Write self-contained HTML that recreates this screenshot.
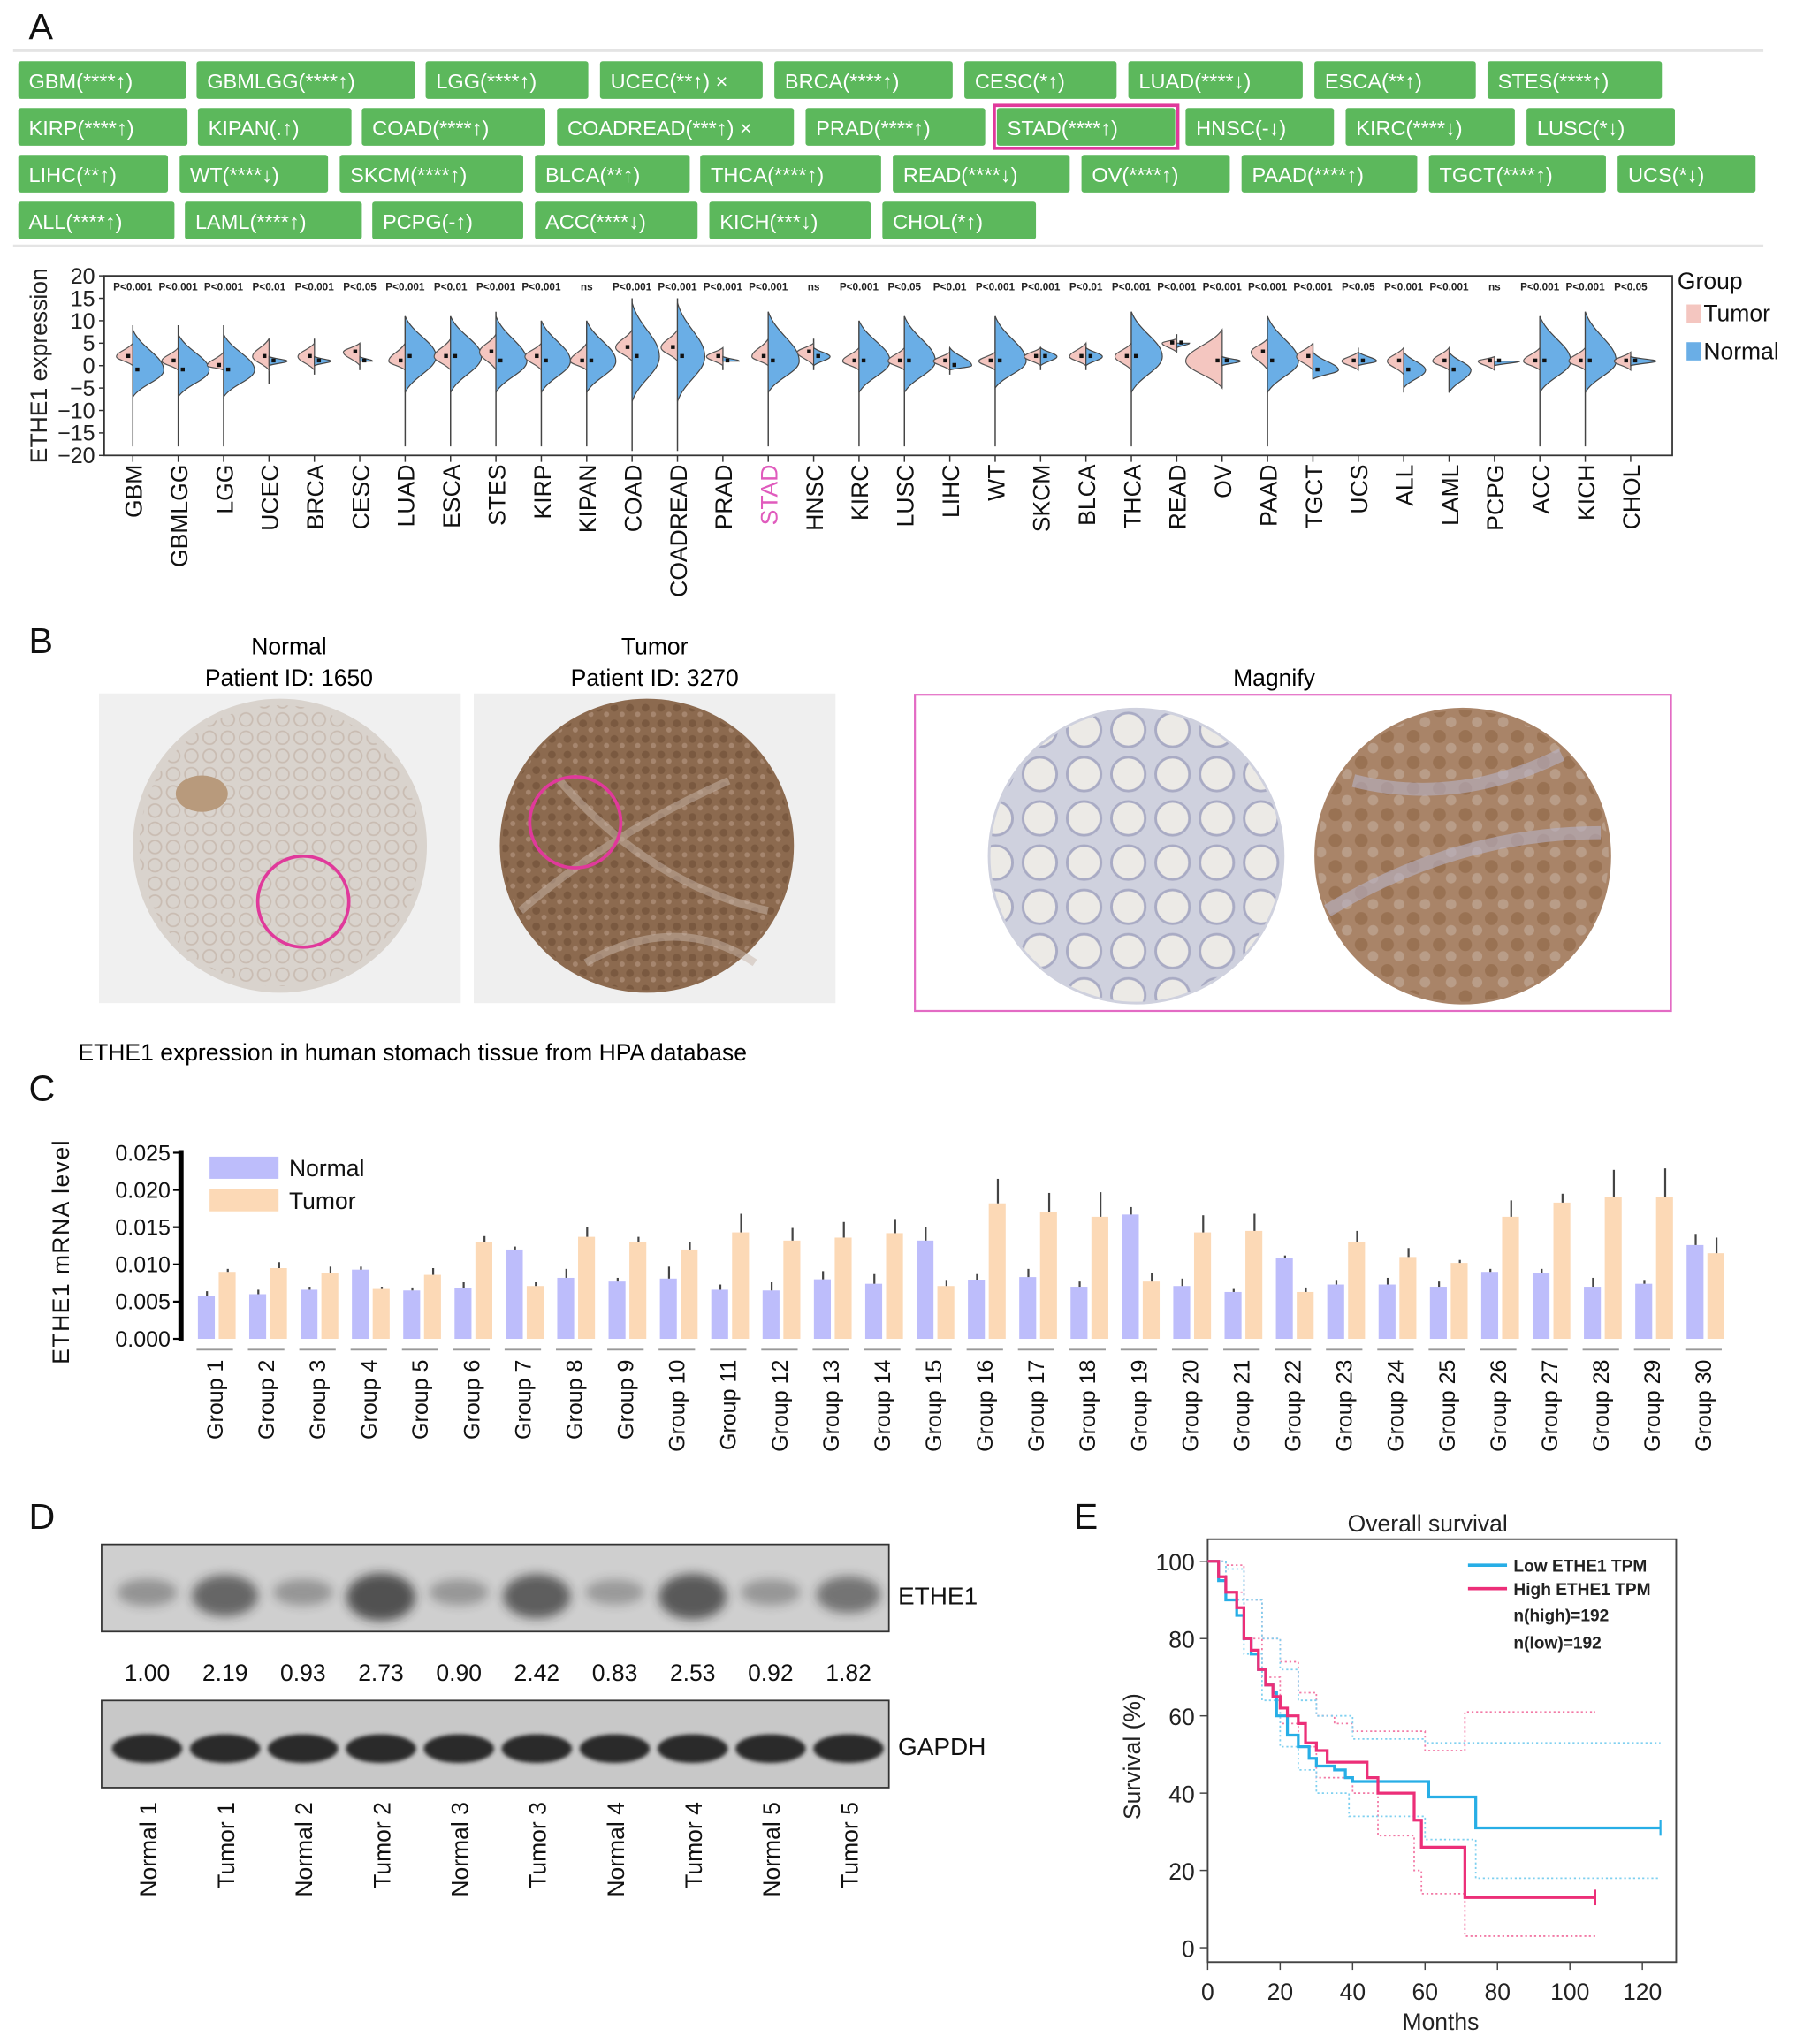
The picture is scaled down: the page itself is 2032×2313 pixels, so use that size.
<!DOCTYPE html>
<html><head><meta charset="utf-8"><style>
html,body{margin:0;padding:0;background:#fff;}
svg{display:block;font-family:"Liberation Sans",Arial,sans-serif;}
</style></head><body>
<svg id="fig" width="2032" height="2313" viewBox="0 0 1380 1571" xmlns="http://www.w3.org/2000/svg">
<defs>
<filter id="blur2" x="-50%" y="-100%" width="200%" height="300%"><feGaussianBlur stdDeviation="4"/></filter>
<filter id="blur1" x="-50%" y="-100%" width="200%" height="300%"><feGaussianBlur stdDeviation="1.5"/></filter>
<pattern id="texN" width="14" height="14" patternUnits="userSpaceOnUse"><circle cx="7" cy="7" r="5" fill="none" stroke="#c9bcb2" stroke-width="1.2"/></pattern>
<pattern id="texT" width="12" height="12" patternUnits="userSpaceOnUse"><circle cx="4" cy="4" r="3" fill="#6e4e35" opacity="0.6"/><circle cx="10" cy="9" r="2" fill="#b79a84" opacity="0.6"/></pattern>
<pattern id="texMN" width="34" height="34" patternUnits="userSpaceOnUse"><circle cx="17" cy="17" r="13" fill="#eceae6" stroke="#a9abc4" stroke-width="2"/></pattern>
<pattern id="texMT" width="20" height="20" patternUnits="userSpaceOnUse"><circle cx="6" cy="6" r="5" fill="#8a5f3e" opacity="0.5"/><circle cx="15" cy="15" r="4" fill="#c9b6a8" opacity="0.5"/></pattern>
</defs>
<rect width="1380" height="1571" fill="#fff"/>
<g font-size="28" fill="#111">
<text x="22" y="30">A</text>
<text x="22" y="502">B</text>
<text x="22" y="846">C</text>
<text x="22" y="1175">D</text>
<text x="825" y="1175">E</text>
</g>
<line x1="10" y1="39" x2="1355" y2="39" stroke="#e4e4e4" stroke-width="2"/>
<line x1="10" y1="189" x2="1355" y2="189" stroke="#e4e4e4" stroke-width="2"/>
<g id="buttons"></g>
<g id="violin"></g>
<g id="panelB">
<text x="222" y="503" font-size="18" text-anchor="middle">Normal</text>
<text x="222" y="527" font-size="18" text-anchor="middle">Patient ID: 1650</text>
<text x="503" y="503" font-size="18" text-anchor="middle">Tumor</text>
<text x="503" y="527" font-size="18" text-anchor="middle">Patient ID: 3270</text>
<rect x="76" y="533" width="278" height="238" fill="#f0f0f0"/>
<circle cx="215" cy="650" r="113" fill="#d9d3cd"/>
<circle cx="215" cy="650" r="108" fill="url(#texN)"/>
<ellipse cx="155" cy="610" rx="20" ry="14" fill="#b89a7c"/>
<circle cx="233" cy="693" r="35" fill="none" stroke="#e0399b" stroke-width="2.5"/>
<rect x="364" y="533" width="278" height="238" fill="#efefef"/>
<circle cx="497" cy="650" r="113" fill="#8c6a4f"/>
<circle cx="497" cy="650" r="111" fill="url(#texT)"/>
<path d="M400 700 Q470 640 560 600 M430 600 Q500 680 590 700 M450 740 Q520 700 580 740" stroke="#c7b6aa" stroke-width="6" fill="none" opacity="0.5"/>
<circle cx="442" cy="632" r="35" fill="none" stroke="#e0399b" stroke-width="2.5"/>
<text x="979" y="527" font-size="18" text-anchor="middle">Magnify</text>
<rect x="703" y="534" width="581" height="243" fill="none" stroke="#e36bc4" stroke-width="1.5"/>
<circle cx="873" cy="658" r="114" fill="#cfd1de"/>
<circle cx="873" cy="658" r="112" fill="url(#texMN)"/>
<circle cx="1124" cy="658" r="114" fill="#a98468"/>
<circle cx="1124" cy="658" r="112" fill="url(#texMT)"/>
<path d="M1020 700 Q1120 640 1230 640 M1040 600 Q1120 620 1200 580" stroke="#b8b3c6" stroke-width="10" fill="none" opacity="0.6"/>
<text x="60" y="815" font-size="18">ETHE1 expression in human stomach tissue from HPA database</text>
</g>
<g id="barC"></g>
<g id="blotD"></g>
<g id="survE"></g>
</svg>
<script>
const NS="http://www.w3.org/2000/svg";
function mk(p,tag,a){const e=document.createElementNS(NS,tag);for(const k in a)e.setAttribute(k,a[k]);p.appendChild(e);return e;}
function tx(p,x,y,s,a){const e=mk(p,'text',Object.assign({x:x,y:y},a||{}));e.textContent=s;return e;}

/* ---------- Panel A buttons ---------- */
const btnRows=[
[["GBM(****↑)",14,143],["GBMLGG(****↑)",151,319],["LGG(****↑)",327,452],["UCEC(**↑)  ×",461,586],["BRCA(****↑)",595,732],["CESC(*↑)",741,858],["LUAD(****↓)",867,1001],["ESCA(**↑)",1010,1134],["STES(****↑)",1143,1277]],
[["KIRP(****↑)",14,144],["KIPAN(.↑)",152,270],["COAD(****↑)",278,419],["COADREAD(***↑)  ×",428,610],["PRAD(****↑)",619,757],["STAD(****↑)",766,903],["HNSC(-↓)",911,1025],["KIRC(****↓)",1034,1164],["LUSC(*↓)",1173,1287]],
[["LIHC(**↑)",14,129],["WT(****↓)",138,252],["SKCM(****↑)",261,402],["BLCA(**↑)",411,530],["THCA(****↑)",538,677],["READ(****↓)",686,822],["OV(****↑)",831,945],["PAAD(****↑)",954,1089],["TGCT(****↑)",1098,1234],["UCS(*↓)",1243,1349]],
[["ALL(****↑)",14,134],["LAML(****↑)",142,278],["PCPG(-↑)",286,402],["ACC(****↓)",411,536],["KICH(***↓)",545,669],["CHOL(*↑)",678,796]]];
const rowY=[47,83,119,155];
const bg=document.getElementById('buttons');
btnRows.forEach((row,ri)=>row.forEach(b=>{
  const r=mk(bg,'rect',{x:b[1],y:rowY[ri],width:b[2]-b[1],height:29,fill:'#5cb85c',rx:2});
  
  
  if(b[0].startsWith('STAD')){const h=mk(bg,'rect',{x:b[1]-2,y:rowY[ri]-2,width:b[2]-b[1]+4,height:33,fill:'none',stroke:'#e0399b','stroke-width':2.5});
    
    }
  const t=tx(bg,b[1]+8,rowY[ri]+21,b[0],{fill:'#fff','font-size':16});
  
  
}));

/* ---------- Panel A violin ---------- */
const vCats=["GBM","GBMLGG","LGG","UCEC","BRCA","CESC","LUAD","ESCA","STES","KIRP","KIPAN","COAD","COADREAD","PRAD","STAD","HNSC","KIRC","LUSC","LIHC","WT","SKCM","BLCA","THCA","READ","OV","PAAD","TGCT","UCS","ALL","LAML","PCPG","ACC","KICH","CHOL"];
const vP=["P<0.001","P<0.001","P<0.001","P<0.01","P<0.001","P<0.05","P<0.001","P<0.01","P<0.001","P<0.001","ns","P<0.001","P<0.001","P<0.001","P<0.001","ns","P<0.001","P<0.05","P<0.01","P<0.001","P<0.001","P<0.01","P<0.001","P<0.001","P<0.001","P<0.001","P<0.001","P<0.05","P<0.001","P<0.001","ns","P<0.001","P<0.001","P<0.05"];
const tLo=[0,-1,-1,-1,-1,0,-1,-1,-1,-1,-1,1,1,0,0,0,-1,-1,-1,-1,0,0,-1,3,-5,-1,-1,-1,-2,-1,-1,-1,-1,-1];
const tHi=[5,4,3,6,5,5,5,6,7,5,5,8,8,4,6,5,4,4,3,3,4,5,5,6,8,6,5,3,4,4,2,4,4,3];
const tMed=[2,1,0,2,2,3,1,2,3,2,1,4,4,2,2,3,1,1,1,1,2,2,2,5,1,3,2,1,1,1,1,1,1,1];
const nLo=[-7,-7,-7,0,0,1,-6,-6,-6,-6,-6,-8,-8,1,-6,0,-6,-6,-1,-5,0,0,-6,4,0,-6,-3,0,-5,-6,0,-6,-6,0];
const nHi=[8,7,7,2,2,2,11,11,11,10,10,14,14,2,12,4,10,11,4,11,4,4,12,5,2,11,3,3,3,3,1,11,12,2];
const nMed=[-1,-1,-1,1,1,1,2,2,1,1,1,2,2,1,1,2,1,1,0,1,2,2,2,5,1,1,-1,1,-1,-1,1,1,1,1];
const wLo=[-18,-18,-18,-4,-2,-1,-18,-18,-18,-18,-18,-19,-19,-1,-18,-1,-18,-18,-2,-18,-1,-1,-18,3,-5,-18,-3,-1,-6,-6,-1,-18,-18,-1];
const wHi=[9,9,9,6,6,5,11,11,12,10,10,15,15,4,12,6,10,11,4,11,4,5,12,7,8,11,5,4,4,4,2,11,12,3];
const tDen=[0.45,0.45,0.45,0.45,0.45,0.45,0.45,0.45,0.45,0.45,0.45,0.45,0.45,0.45,0.45,0.45,0.45,0.45,0.45,0.45,0.45,0.45,0.45,0.4,1.0,0.45,0.45,0.45,0.45,0.45,0.45,0.45,0.45,0.45];
const nDen=[0.85,0.85,0.85,0.5,0.45,0.35,0.85,0.85,0.85,0.8,0.8,0.75,0.75,0.45,0.85,0.45,0.85,0.85,0.6,0.85,0.45,0.45,0.85,0.35,0.5,0.85,0.7,0.5,0.6,0.6,0.7,0.85,0.85,0.7];
const vTicks=[20,15,10,5,0,-5,-10,-15,-20];
(function(){
  const g=document.getElementById('violin');
  const X0=80,X1=1285,Y0=212,Y1=350;
  const ys=v=>Y1-(v+20)/40*(Y1-Y0);
  const xs=i=>102+i*(1253-102)/(vCats.length-1);
  const box=mk(g,'rect',{x:X0,y:Y0,width:X1-X0,height:Y1-Y0,fill:'none',stroke:'#333','stroke-width':1.2});
  
  
  vTicks.forEach(t=>{
    const l=mk(g,'line',{x1:X0-4,x2:X0,y1:ys(t),y2:ys(t),stroke:'#333'});
    
    
    const e=tx(g,X0-7,ys(t)+6,String(t).replace('-','−'),{'font-size':17,'text-anchor':'end',fill:'#222'});
    
    
  });
  const yl=tx(g,0,0,'ETHE1 expression',{'font-size':18,'text-anchor':'middle',transform:'translate(36,281) rotate(-90)',fill:'#222'});
  
  
  function half(x,lo,hi,med,w,s){
    const yh=ys(hi),yl2=ys(lo),ym=ys(med);
    return `M${x},${yh} C${x+s*w*0.25},${yh+(ym-yh)*0.45} ${x+s*w},${ym-(ym-yh)*0.35} ${x+s*w},${ym} C${x+s*w},${ym+(yl2-ym)*0.35} ${x+s*w*0.25},${yl2-(yl2-ym)*0.45} ${x},${yl2} Z`;
  }
  vCats.forEach((c,i)=>{
    const x=xs(i);
    const w=mk(g,'line',{x1:x,x2:x,y1:ys(wHi[i]),y2:ys(wLo[i]),stroke:'#444','stroke-width':1});
    
    
    const tp=mk(g,'path',{d:half(x,tLo[i],tHi[i],tMed[i],28*tDen[i],-1),fill:'#f4c6c0',stroke:'#555','stroke-width':0.8});
    
    
    const np=mk(g,'path',{d:half(x,nLo[i],nHi[i],nMed[i],28*nDen[i],1),fill:'#6aaee6',stroke:'#444','stroke-width':0.8});
    
    
    const d1=mk(g,'rect',{x:x-5,y:ys(tMed[i])-2,width:3,height:3,fill:'#111'});
    
    
    const d2=mk(g,'rect',{x:x+2,y:ys(nMed[i])-2,width:3,height:3,fill:'#111'});
    
    
    const tk=mk(g,'line',{x1:x,x2:x,y1:Y1,y2:Y1+5,stroke:'#333'});
    
    
    const pv=tx(g,x,223,vP[i],{'font-size':8,'font-weight':'bold','text-anchor':'middle',fill:'#222'});
    
    
    const lb=tx(g,0,0,c,{'font-size':18,'text-anchor':'end',transform:`translate(${x+7},357) rotate(-90)`,fill:c==='STAD'?'#e05bbd':'#111'});
    
    
  });
  const lg=tx(g,1289,222,'Group',{'font-size':18,fill:'#111'});
  
  
  [['Tumor','#f4c6c0',241],['Normal','#6aaee6',270]].forEach(L=>{
    const r=mk(g,'rect',{x:1296,y:L[2]-7,width:11,height:14,fill:L[1]});
    
    
    const t=tx(g,1309,L[2]+6,L[0],{'font-size':18,fill:'#111'});
    
    
  });
})();

/* ---------- Panel C bars ---------- */
const cGroups=[];for(let i=1;i<=30;i++)cGroups.push('Group '+i);
const cNormal=[.0058,.0060,.0066,.0093,.0065,.0068,.0120,.0082,.0077,.0081,.0066,.0065,.0080,.0074,.0132,.0079,.0083,.0070,.0167,.0071,.0063,.0109,.0073,.0073,.0070,.0090,.0088,.0070,.0074,.0126];
const cTumor=[.0090,.0095,.0089,.0067,.0086,.0130,.0071,.0137,.0130,.0120,.0143,.0132,.0136,.0142,.0071,.0182,.0171,.0164,.0077,.0143,.0145,.0063,.0130,.0110,.0102,.0164,.0183,.0190,.0190,.0115];
const cNErr=[.0006,.0006,.0004,.0004,.0004,.0008,.0004,.0012,.0005,.0016,.0007,.0011,.0011,.0013,.0018,.0008,.0011,.0007,.0010,.0010,.0004,.0003,.0005,.0009,.0007,.0004,.0006,.0012,.0004,.0015];
const cTErr=[.0004,.0008,.0008,.0003,.0009,.0008,.0005,.0013,.0007,.0010,.0025,.0017,.0021,.0019,.0007,.0033,.0025,.0033,.0012,.0023,.0023,.0006,.0015,.0012,.0004,.0022,.0012,.0037,.0039,.0021];
const cTicks=[0,.005,.01,.015,.02,.025];
(function(){
  const g=document.getElementById('barC');
  const Y0=886,Y1=1029;
  const ys=v=>Y1-v/0.025*(Y1-Y0);
  const gx=i=>165+i*(1309-165)/29;
  const ax=mk(g,'line',{x1:139,x2:139,y1:Y0-2,y2:Y1+2,stroke:'#000','stroke-width':4});
  
  
  cTicks.forEach(t=>{
    const l=mk(g,'line',{x1:133,x2:139,y1:ys(t),y2:ys(t),stroke:'#000','stroke-width':1.5});
    
    
    const e=tx(g,131,ys(t)+6,t.toFixed(3),{'font-size':17,'text-anchor':'end',fill:'#111'});
    
    
  });
  const yt=tx(g,0,0,'ETHE1 mRNA level',{'font-size':18,'text-anchor':'middle',transform:'translate(53,962) rotate(-90)',fill:'#111','letter-spacing':'1'});
  
  
  cGroups.forEach((name,i)=>{
    const c=gx(i);
    [[cNormal[i],cNErr[i],c-13,'#bdbdfb','bar-normal'],[cTumor[i],cTErr[i],c+3,'#fcd9b6','bar-tumor']].forEach(B=>{
      const r=mk(g,'rect',{x:B[2],y:ys(B[0]),width:13,height:Y1-ys(B[0]),fill:B[3]});
      
      
      const e=mk(g,'line',{x1:B[2]+7,x2:B[2]+7,y1:ys(B[0]),y2:ys(B[0]+B[1]),stroke:'#444','stroke-width':1.5});
      
      
    });
    const s=mk(g,'line',{x1:c-14,x2:c+14,y1:1037,y2:1037,stroke:'#999','stroke-width':2});
    
    
    const lb=tx(g,0,0,name,{'font-size':17,'text-anchor':'end',transform:`translate(${c+6},1045) rotate(-90)`,fill:'#111'});
    
    
  });
  [['Normal','#bdbdfb',889],['Tumor','#fcd9b6',914]].forEach(L=>{
    const r=mk(g,'rect',{x:161,y:L[2],width:53,height:17,fill:L[1]});
    
    
    const t=tx(g,222,L[2]+15,L[0],{'font-size':18,fill:'#111'});
    
    
  });
})();

/* ---------- Panel D blot ---------- */
const dLanes=["Normal 1","Tumor 1","Normal 2","Tumor 2","Normal 3","Tumor 3","Normal 4","Tumor 4","Normal 5","Tumor 5"];
const dValues=[1.00,2.19,0.93,2.73,0.90,2.42,0.83,2.53,0.92,1.82];
const dGapdh=[1,1,1,1,1,1,1,1,1,1];
(function(){
  const g=document.getElementById('blotD');
  const lx=i=>113+i*(652-113)/9;
  const b1=mk(g,'rect',{x:78,y:1187,width:605,height:67,fill:'#cfcfcf',stroke:'#333','stroke-width':1.2});
  
  
  const b2=mk(g,'rect',{x:78,y:1307,width:605,height:67,fill:'#c8c8c8',stroke:'#333','stroke-width':1.2});
  
  
  dLanes.forEach((n,i)=>{
    const x=lx(i),v=dValues[i];
    const op=Math.min(0.8,0.12+v*0.22);
    const e=mk(g,'ellipse',{cx:x,cy:1222+v*2,rx:21+v*2,ry:6+v*4.5,fill:'#222',opacity:op,filter:'url(#blur2)'});
    
    
    const q=tx(g,x,1292,v.toFixed(2),{'font-size':18,'text-anchor':'middle',fill:'#111'});
    
    
    const gb=mk(g,'ellipse',{cx:x,cy:1344,rx:27,ry:11*dGapdh[i],fill:'#2a2a2a',filter:'url(#blur1)'});
    
    
    const lb=tx(g,0,0,n,{'font-size':18,'text-anchor':'end',transform:`translate(${x+7},1385) rotate(-90)`,fill:'#111'});
    
    
  });
  const t1=tx(g,690,1233,'ETHE1',{'font-size':19,fill:'#111'});
  
  
  const t2=tx(g,690,1349,'GAPDH',{'font-size':19,fill:'#111'});
  
  
})();

/* ---------- Panel E survival ---------- */
const lowT=[0,3,5,8,10,12,14,16,18,19,22,25,28,30,35,38,40,61,74,125];
const lowS=[100,95,90,86,80,76,72,68,66,60,55,52,49,47,46,44,43,39,31,31];
const highT=[0,3,5,8,10,12,14,16,18,20,22,25,27,30,33,44,47,57,59,71,107];
const highS=[100,96,92,88,80,77,72,68,65,62,60,58,53,51,48,44,40,33,26,13,13];
const lowUpT=[0,5,10,15,20,25,30,40,60,125];
const lowUpS=[100,98,90,80,72,64,60,54,53,53];
const lowLoT=[0,5,10,15,20,25,30,39,45,60,74,125];
const lowLoS=[100,90,76,64,52,46,40,34,34,28,18,18];
const highUpT=[0,5,10,15,20,25,30,35,40,60,71,107];
const highUpS=[100,99,90,80,74,66,60,58,56,51,61,61];
const highLoT=[0,5,10,15,20,25,30,40,47,57,59,71,107];
const highLoS=[100,92,80,70,58,52,44,40,29,20,14,3,3];
const eXTicks=[0,20,40,60,80,100,120];
const eYTicks=[0,20,40,60,80,100];
(function(){
  const g=document.getElementById('survE');
  const xs=t=>928+t/120*(1262-928);
  const ys=s=>1497-s/100*(1497-1200);
  const fr=mk(g,'rect',{x:928,y:1183,width:360,height:325,fill:'none',stroke:'#444','stroke-width':1.3});
  
  
  eXTicks.forEach(t=>{
    const l=mk(g,'line',{x1:xs(t),x2:xs(t),y1:1508,y2:1514,stroke:'#444'});
    
    
    const e=tx(g,xs(t),1537,String(t),{'font-size':18,'text-anchor':'middle',fill:'#222'});
    
    
  });
  eYTicks.forEach(t=>{
    const l=mk(g,'line',{x1:922,x2:928,y1:ys(t),y2:ys(t),stroke:'#444'});
    
    
    const e=tx(g,918,ys(t)+7,String(t),{'font-size':18,'text-anchor':'end',fill:'#222'});
    
    
  });
  const xt=tx(g,1107,1560,'Months',{'font-size':18,'text-anchor':'middle',fill:'#222'});
  
  
  const yt=tx(g,0,0,'Survival (%)',{'font-size':18,'text-anchor':'middle',transform:'translate(876,1350) rotate(-90)',fill:'#222'});
  
  
  const tt=tx(g,1097,1177,'Overall survival',{'font-size':18,'text-anchor':'middle',fill:'#222'});
  
  
  function step(T,S){let d=`M${xs(T[0])},${ys(S[0])}`;for(let i=1;i<T.length;i++){d+=` H${xs(T[i])} V${ys(S[i])}`;}return d;}
  const lines=[
    [highUpT,highUpS,'#f27aa6',1.2,'1.5,2','ci-high-upper'],[highLoT,highLoS,'#f27aa6',1.2,'1.5,2','ci-high-lower'],
    [lowUpT,lowUpS,'#7fd0f0',1.2,'1.5,2','ci-low-upper'],[lowLoT,lowLoS,'#7fd0f0',1.2,'1.5,2','ci-low-lower'],
    [lowT,lowS,'#27aee6',2.2,'','low-expression-curve'],[highT,highS,'#ec2f78',2.2,'','high-expression-curve']];
  lines.forEach(L=>{
    const p=mk(g,'path',{d:step(L[0],L[1]),fill:'none',stroke:L[2],'stroke-width':L[3],'stroke-dasharray':L[4]});
    
    
  });
  [[lowT,lowS,'#27aee6'],[highT,highS,'#ec2f78']].forEach(C=>{
    const T=C[0],S=C[1],t=T[T.length-1],s=S[S.length-1];
    const m=mk(g,'line',{x1:xs(t),x2:xs(t),y1:ys(s)-6,y2:ys(s)+6,stroke:C[2],'stroke-width':1.5});
    
    
  });
  [['Low ETHE1 TPM','#27aee6',1203],['High ETHE1 TPM','#ec2f78',1221]].forEach(L=>{
    const l=mk(g,'line',{x1:1128,x2:1158,y1:L[2],y2:L[2],stroke:L[1],'stroke-width':2.5});
    
    
    const t=tx(g,1163,L[2]+5,L[0],{'font-size':13,'font-weight':'bold',fill:'#222'});
    
    
  });
  const n1=tx(g,1163,1246,'n(high)=192',{'font-size':13,'font-weight':'bold',fill:'#222'});
  
  
  const n2=tx(g,1163,1267,'n(low)=192',{'font-size':13,'font-weight':'bold',fill:'#222'});
  
  
})();
</script>
</body></html>
